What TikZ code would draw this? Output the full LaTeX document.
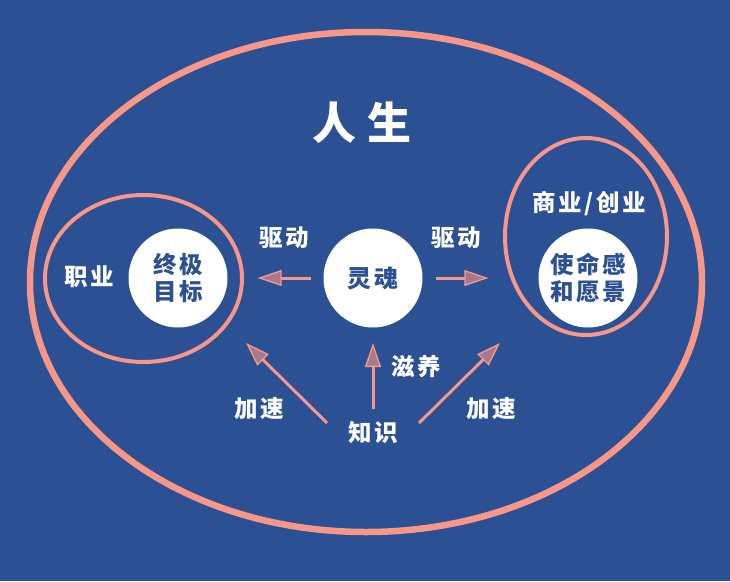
\documentclass[tikz,border=0pt]{standalone}
\usepackage{fontspec}
\newfontfamily\cjk[LetterSpace=11]{Noto Sans CJK SC}
\newfontfamily\cjktitle[LetterSpace=25]{Noto Sans CJK SC}
\usetikzlibrary{arrows.meta}
\definecolor{bgblue}{HTML}{2B5094}
\definecolor{salmon}{HTML}{F89687}
\colorlet{tipfill}{salmon!60!bgblue}

\begin{document}
\begin{tikzpicture}[x=1pt,y=-1pt,
  lbl/.style={text=white,font=\cjk\bfseries\fontsize{23.5}{27}\selectfont,align=center},
  core/.style={circle,fill=white,minimum size=99pt,inner sep=0pt,text=bgblue,
    font=\cjk\bfseries\fontsize{23.5}{27}\selectfont,align=center},
  arr/.style={draw=salmon,line width=3pt,
    -{Triangle[length=24pt,width=16pt,fill=tipfill,line width=1.3pt 0]}}]
  \fill[bgblue] (0,0) rectangle (730,581);
  \useasboundingbox (0,0) rectangle (730,581);
  % rings
  \draw[salmon,line width=6.5pt] (366,282) ellipse [x radius=336pt,y radius=250pt];
  \draw[salmon,line width=4pt] (143.5,278.5) ellipse [x radius=98.5pt,y radius=83.5pt];
  \draw[salmon,line width=4pt] (586,236.5) ellipse [x radius=81pt,y radius=98.5pt];
  % circles
  \node[core] (goal) at (178,278) {终极\\目标};
  \node[core,font=\cjk\bfseries\fontsize{24}{28}\selectfont] (soul) at (373,278) {灵魂};
  \node[core] (mission) at (588,278) {使命感\\和愿景};
  % labels
  \node[lbl,font=\cjktitle\bfseries\fontsize{44}{50}\selectfont] (life) at (362,123) {人生};
  \node[lbl] (career) at (89,277) {职业};
  \node[lbl] (business) at (589,204) {商业/创业};
  \node[lbl] (drivel) at (284,238) {驱动};
  \node[lbl] (driver) at (456,238) {驱动};
  \node[lbl] (nourish) at (416,367) {滋养};
  \node[lbl] (speedl) at (259,409) {加速};
  \node[lbl] (speedr) at (491,409) {加速};
  \node[lbl] (know) at (373,433) {知识};
  % arrows
  \coordinate (kl) at (327,423);  \coordinate (kl') at (246,343);
  \coordinate (km) at (373,409);  \coordinate (km') at (373,343);
  \coordinate (kr) at (419,423);  \coordinate (kr') at (500,343);
  \draw[arr,shorten <=12pt,shorten >=30pt] (soul) -- (goal);
  \draw[arr,shorten <=13pt,shorten >=50pt] (soul) -- (mission);
  \draw[arr] (kl) -- (kl');
  \draw[arr] (km) -- (km');
  \draw[arr] (kr) -- (kr');
\end{tikzpicture}
\end{document}
